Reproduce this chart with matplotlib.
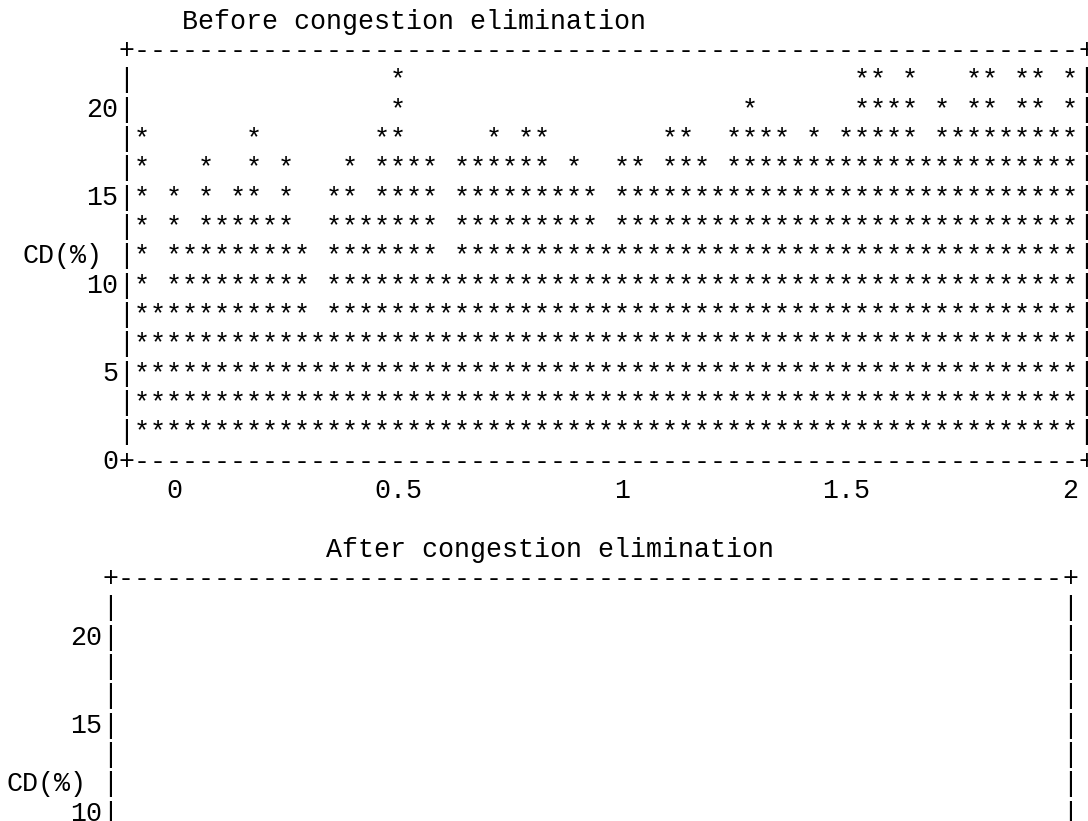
import matplotlib
matplotlib.use("Agg")
import matplotlib.pyplot as plt
import matplotlib.transforms as mtransforms

# CD (%) value of each text row in the "before" plot, top row first
cd_levels = [21.67, 20.0, 18.33, 16.67, 15.0, 13.33, 11.67, 10.0, 8.33, 6.67, 5.0, 3.33, 1.67]

# one character per x bin (bins are 1/28 wide, first bin at x = -2/28); "*" marks a point
before_rows = [
    "          " "      *   " "          " "          " "     ** * " "  ** ** *",
    "          " "      *   " "          " "        * " "     **** " "* ** ** *",
    "*      *  " "     **   " "  * **    " "   **  ***" "* * ***** " "*********",
    "*   *  * *" "   * **** " "****** *  " "** *** ***" "**********" "*********",
    "* * * ** *" "  ** **** " "********* " "**********" "**********" "*********",
    "* * ******" "  ******* " "********* " "**********" "**********" "*********",
    "* ********" "* ******* " "**********" "**********" "**********" "*********",
    "* ********" "* ********" "**********" "**********" "**********" "*********",
    "**********" "* ********" "**********" "**********" "**********" "*********",
    "**********" "**********" "**********" "**********" "**********" "*********",
    "**********" "**********" "**********" "**********" "**********" "*********",
    "**********" "**********" "**********" "**********" "**********" "*********",
    "**********" "**********" "**********" "**********" "**********" "*********",
]

x_ticks = [0, 0.5, 1, 1.5, 2]
x_tick_labels = ["0", "0.5", "1", "1.5", "2"]
y_ticks = [0, 5, 10, 15, 20]
y_label = "CD(%)"
titles = ["Before congestion elimination", "After congestion elimination"]

x_first = -2 / 28
x_step = 1 / 28          # one text column
y_step = 5 / 3           # one text row

FONT = "Liberation Mono"
FS = 19.2                # 16 px per character at 100 dpi
W, H = 1088, 821
CHAR_W = 16.0
LINE_H = 29.333

fig = plt.figure(figsize=(W / 100, H / 100), dpi=100)
fig.patch.set_facecolor("white")


def make_axes(left_px, top_px):
    # axes box = the text frame: 60 columns wide, 14 rows tall
    ax = fig.add_axes([left_px / W, (H - top_px - 14 * LINE_H) / H,
                       60 * CHAR_W / W, 14 * LINE_H / H])
    ax.set_xlim(-3 * x_step, 57 * x_step)
    ax.set_ylim(0, 14 * y_step)
    ax.axis("off")
    return ax


def put(ax, x, y, s, ha="center"):
    tr = mtransforms.offset_copy(ax.transData, fig=fig, x=0, y=-8.8, units="dots")
    ax.text(x, y, s, transform=tr, fontfamily=FONT, fontsize=FS,
            ha=ha, va="baseline", color="black", clip_on=False)


def draw_frame(ax, title, title_col, rows_shown, show_xticks):
    x0, x1 = ax.get_xlim()
    y0, y1 = ax.get_ylim()
    for i in range(61):
        ch = "+" if i in (0, 60) else "-"
        put(ax, x0 + i * x_step, y1, ch)
        if rows_shown >= 14:
            put(ax, x0 + i * x_step, y0, ch)
    for j in range(1, 14):
        if 14 - j > rows_shown:
            continue
        put(ax, x0, y0 + j * y_step, "|")
        put(ax, x1, y0 + j * y_step, "|")
    for v in y_ticks:
        if round((y1 - v) / y_step) <= rows_shown:
            put(ax, x0 - 0.5 * x_step, v, str(v), ha="right")
    put(ax, x0 - 1.5 * x_step, 7 * y_step, y_label, ha="right")
    if show_xticks:
        for v, lab in zip(x_ticks, x_tick_labels):
            put(ax, v, -y_step, lab)
    put(ax, x0 + (title_col - 0.5) * x_step, y1 + y_step, title, ha="left")


# Before congestion elimination
ax1 = make_axes(126, 20 + LINE_H)
draw_frame(ax1, titles[0], 4, 14, True)
for level, row in zip(cd_levels, before_rows):
    for i, ch in enumerate(row):
        if ch == "*":
            put(ax1, x_first + i * x_step, level, "*")

# After congestion elimination (only the upper part fits in the picture)
ax2 = make_axes(110, 20 + 19 * LINE_H)
draw_frame(ax2, titles[1], 14, 8, False)

fig.savefig("out.png", dpi=100, facecolor="white")
